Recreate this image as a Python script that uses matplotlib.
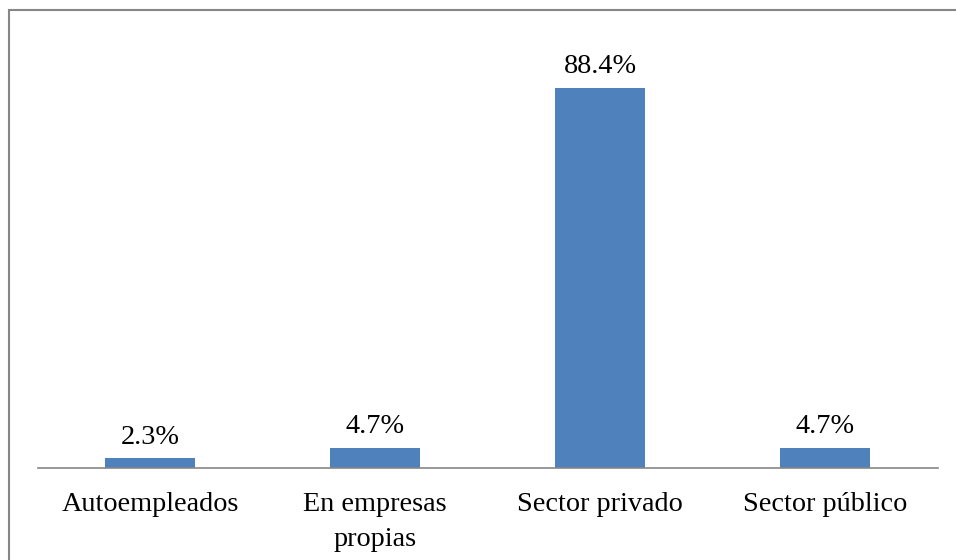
import matplotlib
matplotlib.use("Agg")
import matplotlib.pyplot as plt
from matplotlib.patches import Rectangle

categories = ["Autoempleados", "En empresas\npropias", "Sector privado", "Sector público"]
values = [2.3, 4.7, 88.4, 4.7]
labels = ["2.3%", "4.7%", "88.4%", "4.7%"]

plt.rcParams['font.family'] = ['Liberation Serif', 'DejaVu Serif']

W, H = 956, 560
FS = 20.3
fig = plt.figure(figsize=(W / 100, H / 100), dpi=100)
ax = fig.add_axes([37.5 / W, (H - 468) / H, 900 / W, 430 / H])

x = range(len(categories))
bars = ax.bar(x, values, width=0.4, color="#4F81BD", zorder=2)
for xi, v, lab in zip(x, values, labels):
    ax.annotate(lab, (xi, v), xytext=(0, 10.5), textcoords="offset points",
                ha="center", va="baseline", fontsize=FS, color="black")

ax.set_xlim(-0.5, len(categories) - 0.5)
ax.set_ylim(0, 100)
ax.set_xticks(list(x))
ax.set_xticklabels(categories, fontsize=FS, linespacing=1.5)
ax.tick_params(axis="x", length=0, pad=17.5)
ax.set_yticks([])
for s in ["top", "right", "left"]:
    ax.spines[s].set_visible(False)
ax.spines["bottom"].set_color("#868686")
ax.spines["bottom"].set_linewidth(1.2)

fig.patches.append(Rectangle((8.5 / W, -0.1), 1.2, (H - 9.5) / H + 0.1,
                             transform=fig.transFigure, fill=False,
                             edgecolor="#868686", linewidth=1.5))

fig.savefig("out.png", dpi=100)
